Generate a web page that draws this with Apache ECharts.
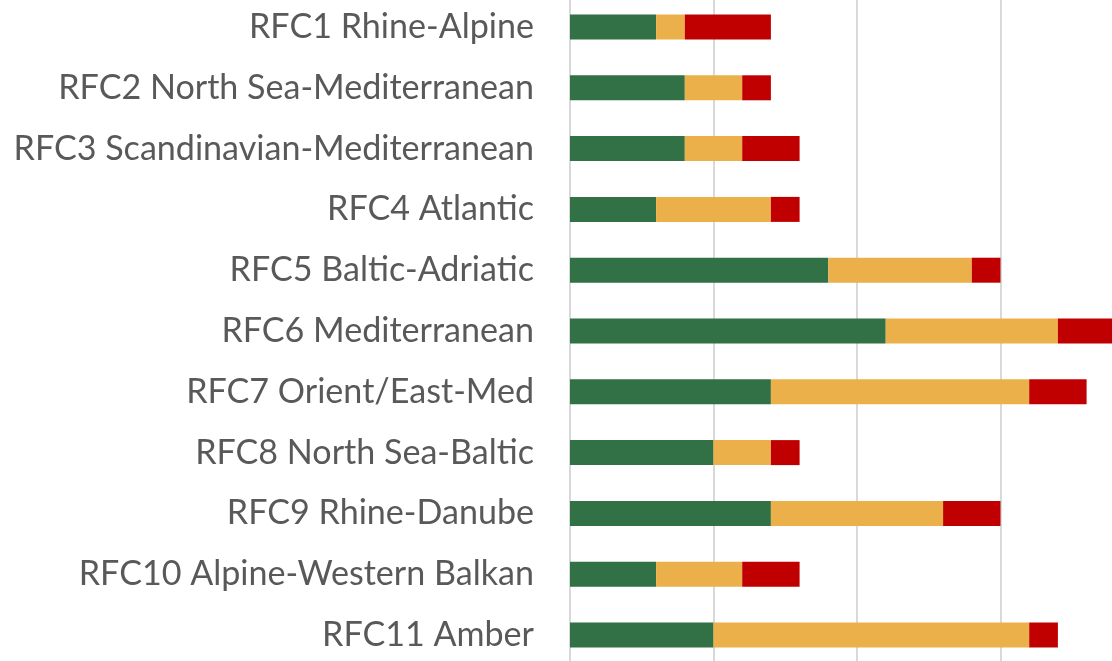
<!DOCTYPE html>
<html><head><meta charset="utf-8">
<script src="https://cdn.jsdelivr.net/npm/echarts@6/dist/echarts.min.js"></script>
<style>html,body{margin:0;padding:0;background:#fff}#c{width:1112px;height:661px}</style>
</head><body><div id="c"></div>
<script>
const categories = ["RFC1 Rhine-Alpine","RFC2 North Sea-Mediterranean","RFC3 Scandinavian-Mediterranean","RFC4 Atlantic","RFC5 Baltic-Adriatic","RFC6 Mediterranean","RFC7 Orient/East-Med","RFC8 North Sea-Baltic","RFC9 Rhine-Danube","RFC10 Alpine-Western Balkan","RFC11 Amber"];
const greenValues = [3,4,4,3,9,11,7,5,7,3,5];
const amberValues = [1,2,2,4,5,6,9,2,6,3,11];
const redValues = [3,1,2,1,1,2,2,1,2,2,1];

const FONT = 'Lato';
const cv = document.createElement('canvas').getContext('2d');
cv.font = '28px ' + FONT;
const w = cv.measureText('RFC3 Scandinavian-Mediterranean').width;
const fs = Math.round(28 * 521 / w * 10) / 10;

const chart = echarts.init(document.getElementById('c'), null, {renderer:'canvas'});
const mk = (name, data, color) => ({name, type:'bar', stack:'t', data, barWidth:25, itemStyle:{color}, emphasis:{disabled:true}});
chart.setOption({
  animation:false,
  grid:{left:570, right:-32, top:-3.4, bottom:-4.4, containLabel:false, outerBoundsMode:'none'},
  xAxis:{type:'value', min:0, max:20, interval:5, axisLabel:{show:false}, axisLine:{show:false}, axisTick:{show:false},
    splitLine:{show:true, lineStyle:{color:'#D9D9D9', width:2}}},
  yAxis:{type:'category', inverse:true, data:categories, axisTick:{show:false},
    axisLine:{show:true, lineStyle:{color:'#D9D9D9', width:2}},
    axisLabel:{color:'#595959', fontFamily:FONT, fontSize:fs, margin:36}},
  series:[mk('Green', greenValues, '#327046'), mk('Amber', amberValues, '#EBB049'), mk('Red', redValues, '#C00000')]
});
</script></body></html>
